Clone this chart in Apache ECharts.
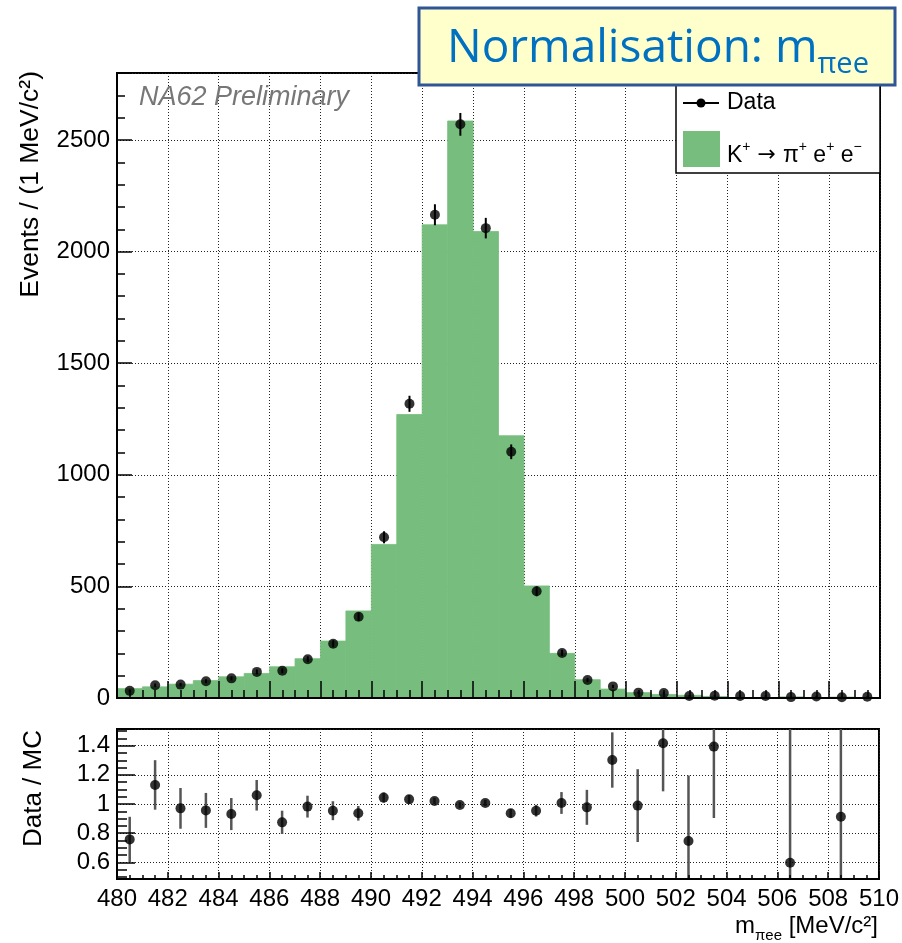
<!DOCTYPE html>
<html><head><meta charset="utf-8">
<script src="https://cdn.jsdelivr.net/npm/echarts@6/dist/echarts.min.js"></script>
<style>html,body{margin:0;padding:0;background:#fff}#c{width:902px;height:943px}</style>
</head><body><div id="c"></div>
<script>
// ---- data ----
const binEdges = [480,481,482,483,484,485,486,487,488,489,490,491,492,493,494,495,496,497,498,499,500,501,502,503,504,505,506,507,508,509,510];
const mcCounts = [42,50,62,78,95,110,140,176,255,390,688,1270,2120,2585,2090,1175,502,200,82,40,24,16,12,7,0,0,5,0,4,0];
const dataCounts = [32,57,60,75,88,117,122,174,243,364,720,1318,2165,2570,2105,1103,478,202,81,52,24,22,9,10,9,9,4,7,3,6];
const dataErrors = [6,8,8,9,9,11,11,13,16,19,27,36,47,51,46,33,22,14,9,7,5,5,3,3,3,3,2,3,2,2];
const ratioValues = [0.757,1.131,0.970,0.956,0.931,1.060,0.874,0.982,0.954,0.936,1.044,1.032,1.021,0.993,1.007,0.936,0.954,1.007,0.977,1.302,0.989,1.417,0.746,1.394,null,null,0.597,null,0.913,null];
const ratioErrors = [0.155,0.17,0.14,0.12,0.11,0.105,0.08,0.075,0.065,0.05,0.035,0.03,0.022,0.02,0.022,0.03,0.04,0.075,0.12,0.19,0.25,0.33,0.45,0.49,null,null,1.0,null,0.7,null];

// ---- build ----
const GREEN = '#77BE7E';
const FONT = "'Liberation Sans', Arial, Helvetica, sans-serif";
const histData = mcCounts.map((v,i)=>[binEdges[i], binEdges[i+1], v]);
const centers = binEdges.slice(0,-1).map((e,i)=>(e+binEdges[i+1])/2);
const dataPts = dataCounts.map((v,i)=>[centers[i], v, dataErrors[i]]);
const ratioPts = [];
ratioValues.forEach((v,i)=>{ if(v!==null) ratioPts.push([centers[i], v, ratioErrors[i]]); });

function histItem(params, api){
  const p1 = api.coord([api.value(0), api.value(2)]);
  const p0 = api.coord([api.value(1), 0]);
  return {type:'rect', shape:{x:p1[0], y:p1[1], width:p0[0]-p1[0], height:p0[1]-p1[1]}, style:{fill:GREEN, stroke:GREEN, lineWidth:0.8}};
}
function errItem(color, width){
  return function(params, api){
    const c = api.value(0), y = api.value(1), e = api.value(2);
    const t = api.coord([c, y+e]), b = api.coord([c, y-e]);
    return {type:'line', shape:{x1:t[0], y1:t[1], x2:b[0], y2:b[1]}, style:{stroke:color, lineWidth:width}};
  };
}
const gridLine = {show:true, lineStyle:{color:'#222', width:1, type:[1,2]}};
function frameX(grid, showLabel, tickLen, minorLen){
  return {gridIndex:grid, type:'value', min:480, max:510, interval:2, z:10, position:'bottom',
    axisLine:{show:true, onZero:false, lineStyle:{color:'#000', width:2}},
    axisTick:{show:true, inside:true, length:tickLen, lineStyle:{color:'#000', width:1.5}},
    minorTick:{show:true, splitNumber:4, length:minorLen, lineStyle:{color:'#000', width:1.5}},
    axisLabel:{show:showLabel, fontSize:24, fontFamily:FONT, color:'#000', margin:8, formatter:v=>String(v)},
    splitLine:{show:false}};
}
function gridX(grid){
  return {gridIndex:grid, type:'value', min:480, max:510, interval:2, z:0, position:'top',
    axisLine:{show:false}, axisTick:{show:false}, axisLabel:{show:false}, splitLine:gridLine};
}

const option = {
  animation:false,
  backgroundColor:'#fff',
  grid:[
    {left:117, top:73, width:763, height:625, show:true, borderColor:'#000', borderWidth:2, backgroundColor:'transparent'},
    {left:117, top:729, width:763, height:150, show:true, borderColor:'#000', borderWidth:2, backgroundColor:'transparent'}
  ],
  xAxis:[ frameX(0,false,17,8), frameX(1,true,7,4), gridX(0), gridX(1) ],
  yAxis:[
    {gridIndex:0, type:'value', min:0, max:2800, interval:500, z:10, position:'left',
      axisLine:{show:true, onZero:false, lineStyle:{color:'#000', width:2}},
      axisTick:{show:true, inside:true, length:15, lineStyle:{color:'#000', width:1.5}},
      minorTick:{show:true, splitNumber:5, length:8, lineStyle:{color:'#000', width:1.5}},
      axisLabel:{fontSize:24, fontFamily:FONT, color:'#000', margin:7, showMaxLabel:false, formatter:v=>String(v)},
      splitLine:{show:false}},
    {gridIndex:1, type:'value', min:0.485, max:1.515, splitNumber:5, z:10, position:'left',
      axisLine:{show:true, onZero:false, lineStyle:{color:'#000', width:2}},
      axisTick:{show:true, inside:true, length:18, lineStyle:{color:'#000', width:1.5}},
      minorTick:{show:true, splitNumber:4, length:10, lineStyle:{color:'#000', width:1.5}},
      axisLabel:{fontSize:24, fontFamily:FONT, color:'#000', margin:7, showMinLabel:false, showMaxLabel:false, formatter:v=>String(Math.round(v*100)/100)},
      splitLine:{show:false}},
    {gridIndex:0, type:'value', min:0, max:2800, interval:500, z:0, position:'right',
      axisLine:{show:false}, axisTick:{show:false}, axisLabel:{show:false}, splitLine:gridLine},
    {gridIndex:1, type:'value', min:0.485, max:1.515, splitNumber:5, z:0, position:'right',
      axisLine:{show:false}, axisTick:{show:false}, axisLabel:{show:false}, splitLine:gridLine}
  ],
  series:[
    {type:'custom', name:'MC', xAxisIndex:0, yAxisIndex:0, data:histData, encode:{x:[0,1], y:2}, renderItem:histItem, z:2, clip:true},
    {type:'custom', name:'DataErr', xAxisIndex:0, yAxisIndex:0, data:dataPts, encode:{x:0, y:1}, renderItem:errItem('#000',2), z:3, clip:true},
    {type:'scatter', name:'Data', xAxisIndex:0, yAxisIndex:0, data:dataPts.map(d=>[d[0],d[1]]), symbol:'circle', symbolSize:10, itemStyle:{color:'#000'}, z:4},
    {type:'custom', name:'RatioErr', xAxisIndex:1, yAxisIndex:1, data:ratioPts, encode:{x:0, y:1}, renderItem:errItem('#555',2.5), z:3, clip:true},
    {type:'scatter', name:'Ratio', xAxisIndex:1, yAxisIndex:1, data:ratioPts.map(d=>[d[0],d[1]]), symbol:'circle', symbolSize:10, itemStyle:{color:'#000'}, z:4}
  ],
  graphic:[
    {type:'text', x:139, y:97, z:20, style:{text:'NA62 Preliminary', fontSize:27, fontStyle:'italic', fontFamily:FONT, fill:'#777', align:'left', verticalAlign:'middle'}},
    {type:'text', x:31, y:71, rotation:Math.PI/2, z:20, style:{text:'Events / (1 MeV/c²)', fontSize:26.5, fontFamily:FONT, fill:'#000', align:'right', verticalAlign:'middle'}},
    {type:'text', x:34, y:730, rotation:Math.PI/2, z:20, style:{text:'Data / MC', fontSize:26, fontFamily:FONT, fill:'#000', align:'right', verticalAlign:'middle'}},
    {type:'text', x:878, y:914, z:20, style:{text:'{n|m}{s|πee}{n| [MeV/c²]}', align:'right', verticalAlign:'top',
      rich:{n:{fontSize:24, fontFamily:FONT, fill:'#000', lineHeight:26, verticalAlign:'top'},
            s:{fontSize:15, fontFamily:FONT, fill:'#000', lineHeight:15, padding:[14,0,0,0], verticalAlign:'top'}}}},
    // legend
    {type:'rect', z:30, shape:{x:676, y:80, width:204, height:93}, style:{fill:'#fff', stroke:'#000', lineWidth:1.5}},
    {type:'line', z:31, shape:{x1:683, y1:103, x2:719, y2:103}, style:{stroke:'#000', lineWidth:2}},
    {type:'circle', z:31, shape:{cx:701, cy:103, r:4.5}, style:{fill:'#000'}},
    {type:'text', z:31, x:727, y:103, style:{text:'Data', fontSize:23, fontFamily:FONT, fill:'#000', align:'left', verticalAlign:'middle'}},
    {type:'rect', z:31, shape:{x:683, y:131, width:37, height:36}, style:{fill:GREEN}},
    {type:'text', z:31, x:727, y:140, style:{text:'{n|K}{p|+}{a| → }{n|π}{p|+}{n| e}{p|+}{n| e}{p|−}', align:'left', verticalAlign:'top',
      rich:{n:{fontSize:23, fontFamily:FONT, fill:'#000', lineHeight:28, verticalAlign:'top', padding:[4,0,0,0]},
            a:{fontSize:22, fontFamily:"'DejaVu Sans', sans-serif", fill:'#000', lineHeight:28, verticalAlign:'top', padding:[4,0,0,0]},
            p:{fontSize:14, fontFamily:FONT, fill:'#000', lineHeight:14, verticalAlign:'top', padding:[0,0,0,0]}}}},
    // title box
    {type:'rect', z:40, shape:{x:419, y:8, width:476, height:77}, style:{fill:'#FFFFCC', stroke:'#2F5597', lineWidth:3}},
    {type:'text', z:41, x:447, y:26, style:{text:'{a|Normalisation: m}{b|πee}', align:'left', verticalAlign:'top',
      rich:{a:{fontSize:46, fontFamily:"'Open Sans', 'Noto Sans', sans-serif", fill:'#0070C0', lineHeight:50, verticalAlign:'top'},
            b:{fontSize:29, fontFamily:"'Open Sans', 'Noto Sans', sans-serif", fill:'#0070C0', lineHeight:28, padding:[24,0,0,0], verticalAlign:'top'}}}}
  ]
};
const chart = echarts.init(document.getElementById('c'), null, {renderer:'canvas'});
chart.setOption(option);
</script>
</body></html>
